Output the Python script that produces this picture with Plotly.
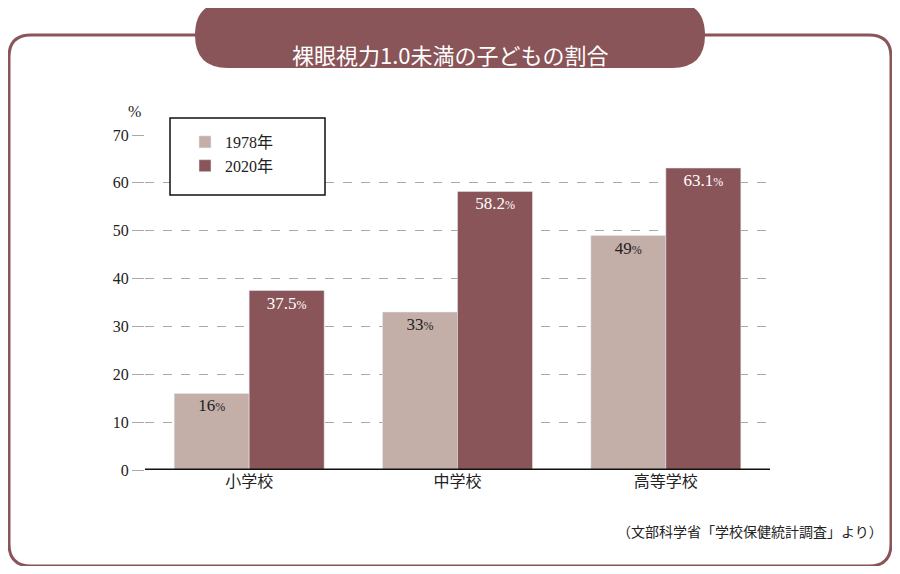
import plotly.graph_objects as go

categories = ["小学校", "中学校", "高等学校"]
v1978 = [16, 33, 49]
v2020 = [37.5, 58.2, 63.1]
lab1978 = ["16", "33", "49"]
lab2020 = ["37.5", "58.2", "63.1"]

DARK = "#8A5558"
LIGHT = "#C3AFA8"
FONT = "Liberation Serif, Noto Sans CJK JP"

OFF = 8  # default page body margin
W, H = 900 - 2 * OFF, 574 - 2 * OFF
L, R, T, B = 145 - OFF, 770 - OFF, 135 - OFF, 470 - OFF
def px(x): return (x - OFF - L) / (R - L)
def py(y): return (B - (y - OFF)) / (B - T)

def rrect(x0, y0, x1, y1, r):
    pts = f"M {px(x0+r)},{py(y0)} L {px(x1-r)},{py(y0)} Q {px(x1)},{py(y0)} {px(x1)},{py(y0+r)} "
    pts += f"L {px(x1)},{py(y1-r)} Q {px(x1)},{py(y1)} {px(x1-r)},{py(y1)} "
    pts += f"L {px(x0+r)},{py(y1)} Q {px(x0)},{py(y1)} {px(x0)},{py(y1-r)} "
    pts += f"L {px(x0)},{py(y0+r)} Q {px(x0)},{py(y0)} {px(x0+r)},{py(y0)} Z"
    return pts

def txt(labels):
    return [f"{s}<span style='font-size:12px'>%</span>" for s in labels]

fig = go.Figure()
fig.add_bar(x=categories, y=v1978, name="1978年", marker_color=LIGHT,
            text=txt(lab1978), textposition="inside", insidetextanchor="end",
            textfont=dict(color="#222", size=17, family=FONT), textangle=0)
fig.add_bar(x=categories, y=v2020, name="2020年", marker_color=DARK,
            text=txt(lab2020), textposition="inside", insidetextanchor="end",
            textfont=dict(color="white", size=17, family=FONT), textangle=0)

shapes = [
    dict(type="path", xref="paper", yref="paper", path=rrect(9, 35, 891, 566, 22),
         line=dict(color=DARK, width=3), fillcolor="rgba(0,0,0,0)", layer="below"),
    dict(type="path", xref="paper", yref="paper", path=rrect(195, 2, 705, 68, 33),
         line=dict(color=DARK, width=0), fillcolor=DARK),
    dict(type="rect", xref="paper", yref="paper", x0=px(170), x1=px(325), y0=py(118), y1=py(195),
         line=dict(color="#111", width=1.5), fillcolor="white"),
    dict(type="line", xref="paper", yref="y", x0=0, x1=1, y0=0, y1=0, line=dict(color="#111", width=3)),
]
fig.update_layout(
    width=W, height=H, margin=dict(l=L, r=W - R, t=T, b=H - B),
    paper_bgcolor="white", plot_bgcolor="white",
    barmode="group", bargap=0.28, bargroupgap=0,
    font=dict(family=FONT, color="#222", size=16),
    shapes=shapes,
    showlegend=True,
    legend=dict(x=px(185), y=py(125), xanchor="left", yanchor="top", bgcolor="rgba(0,0,0,0)",
                font=dict(size=16, family=FONT), itemwidth=30, tracegroupgap=8),
    xaxis=dict(showgrid=False, showline=False, ticks="", tickfont=dict(size=16), range=[-0.5, 2.5]),
    yaxis=dict(range=[0, 70], dtick=10, showgrid=True, gridcolor="#A9A9A9", griddash="dash",
               gridwidth=1, zeroline=False, ticks="outside", ticklen=12, tickcolor="#A9A9A9",
               tickfont=dict(size=16)),
    annotations=[
        dict(xref="paper", yref="paper", x=px(450), y=py(36), text="裸眼視力1.0未満の子どもの割合",
             showarrow=False, font=dict(color="white", size=22, family="Noto Sans CJK JP")),
        dict(xref="paper", yref="paper", x=px(126), y=py(101), text="%", showarrow=False,
             font=dict(size=16)),
        dict(xref="paper", yref="paper", x=px(885), y=py(543), xanchor="right",
             text="（文部科学省「学校保健統計調査」より）", showarrow=False,
             font=dict(size=14, family="Noto Sans CJK JP")),
    ],
)
fig.write_html("out.html")
